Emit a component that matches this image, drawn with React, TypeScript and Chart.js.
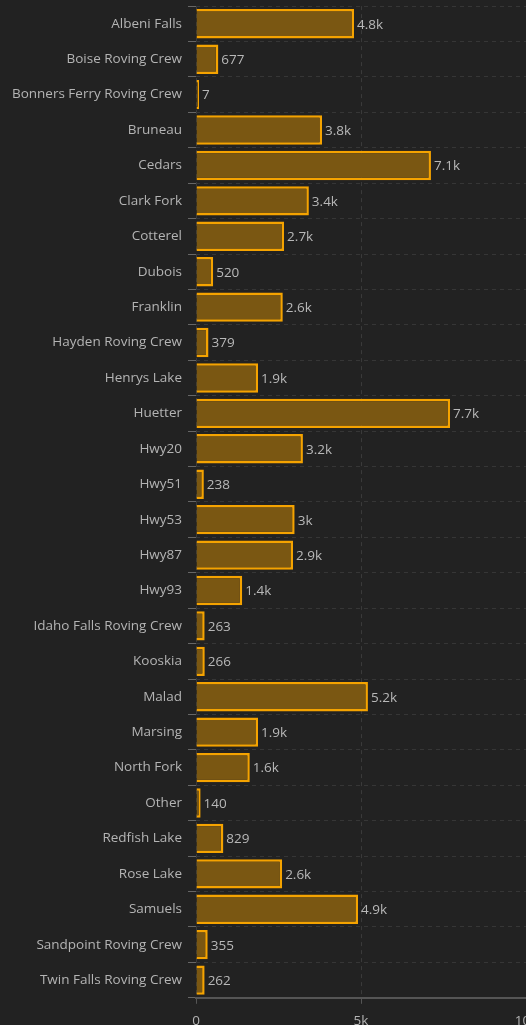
import React, { useEffect, useRef } from "react";
import { Chart, registerables } from "chart.js";

Chart.register(...registerables);

const categories = [
  "Albeni Falls",
  "Boise Roving Crew",
  "Bonners Ferry Roving Crew",
  "Bruneau",
  "Cedars",
  "Clark Fork",
  "Cotterel",
  "Dubois",
  "Franklin",
  "Hayden Roving Crew",
  "Henrys Lake",
  "Huetter",
  "Hwy20",
  "Hwy51",
  "Hwy53",
  "Hwy87",
  "Hwy93",
  "Idaho Falls Roving Crew",
  "Kooskia",
  "Malad",
  "Marsing",
  "North Fork",
  "Other",
  "Redfish Lake",
  "Rose Lake",
  "Samuels",
  "Sandpoint Roving Crew",
  "Twin Falls Roving Crew",
];

const counts = [
  4790, 677, 7, 3820, 7120, 3420, 2670, 520, 2630, 379, 1880, 7700, 3240, 238,
  2990, 2940, 1400, 263, 266, 5210, 1880, 1630, 140, 829, 2610, 4910, 355, 262,
];

const xTicks = [0, 5000, 10000];

const fmt = (v: number) => {
  if (v >= 1000) {
    const s = (v / 1000).toFixed(1).replace(/\.0$/, "");
    return s + "k";
  }
  return String(v);
};

const FONT = "'Open Sans', sans-serif";

const valueLabels = {
  id: "valueLabels",
  afterDatasetsDraw(chart: any) {
    const ctx = chart.ctx;
    const meta = chart.getDatasetMeta(0);
    ctx.save();
    ctx.font = `13.5px ${FONT}`;
    ctx.fillStyle = "#b8b8b8";
    ctx.textAlign = "left";
    ctx.textBaseline = "middle";
    meta.data.forEach((bar: any, i: number) => {
      const v = chart.data.datasets[0].data[i] as number;
      ctx.fillText(fmt(v), bar.x + 3, bar.y + 1);
    });
    ctx.restore();
  },
};

const bgPlugin = {
  id: "bg",
  beforeDraw(chart: any) {
    const ctx = chart.ctx;
    ctx.save();
    ctx.fillStyle = "#222222";
    ctx.fillRect(0, 0, chart.width, chart.height);
    ctx.restore();
  },
};

export default function App() {
  const ref = useRef<HTMLCanvasElement | null>(null);
  useEffect(() => {
    if (!ref.current) return;
    const chart = new Chart(ref.current, {
      type: "bar",
      data: {
        labels: categories,
        datasets: [
          {
            data: counts,
            backgroundColor: "#7a5712",
            borderColor: "#f5a300",
            borderWidth: 2.5,
            barPercentage: 0.83,
            categoryPercentage: 1,
            minBarLength: 3,
          },
        ],
      },
      options: {
        indexAxis: "y",
        animation: false,
        responsive: false,
        devicePixelRatio: 1,
        layout: { padding: { top: 5, right: 34, bottom: 2, left: 0 } },
        plugins: {
          legend: { display: false },
          tooltip: { enabled: false },
        },
        scales: {
          x: {
            type: "linear",
            min: 0,
            max: 10000,
            afterBuildTicks: (scale: any) => {
              scale.ticks = xTicks.map((v) => ({ value: v }));
            },
            ticks: {
              color: "#b4b4b4",
              font: { family: FONT, size: 13.5 },
              padding: 9,
              callback: (v: any) => fmt(Number(v)),
            },
            grid: {
              color: "#3a3a3a",
              tickColor: "#555555",
              tickLength: 6,
            },
            border: { display: true, color: "#555555", width: 2, dash: [4, 4] },
          },
          y: {
            type: "category",
            afterFit: (scale: any) => {
              scale.width = 196;
            },
            ticks: {
              color: "#b4b4b4",
              font: { family: FONT, size: 13.5 },
              padding: 6,
              autoSkip: false,
            },
            grid: {
              color: "#363636",
              tickColor: "#666666",
              tickLength: 8,
              offset: true,
            },
            border: { display: false, dash: [4, 4] },
          },
        },
      },
      plugins: [bgPlugin, valueLabels],
    });
    return () => chart.destroy();
  }, []);
  return (
    <div
      style={{
        position: "fixed",
        left: 0,
        top: 0,
        width: 526,
        height: 1025,
        overflow: "hidden",
        background: "#222222",
      }}
    >
      <canvas
        ref={ref}
        width={560}
        height={1048}
        style={{ display: "block", position: "absolute", left: 0, top: -8 }}
      />
    </div>
  );
}
